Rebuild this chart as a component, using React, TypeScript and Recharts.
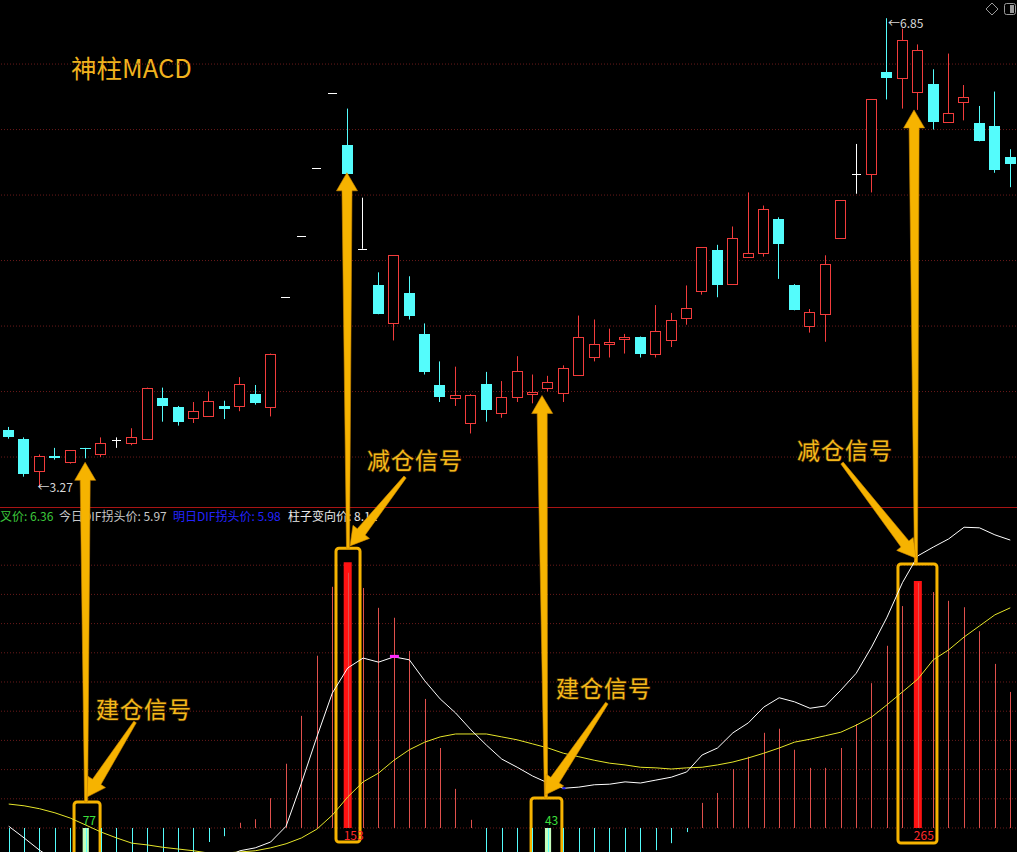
import React from 'react';
import {
  ComposedChart, Bar, Line, XAxis, YAxis, CartesianGrid,
  ReferenceLine, ReferenceArea, ReferenceDot,
} from 'recharts';

// daily candles
const OPEN = [3.71, 3.64, 3.39, 3.51, 3.46, 3.57, 3.52, 3.63, 3.61, 3.64, 3.95, 3.88, 3.80, 3.81, 3.89, 3.89, 3.98, 3.88, 4.72, 5.19, 5.71, 6.28, 5.88, 5.09, 4.81, 4.52, 4.75, 4.44, 4.05, 3.95, 3.76, 4.06, 3.84, 3.96, 3.98, 4.03, 3.99, 4.13, 4.26, 4.36, 4.40, 4.42, 4.29, 4.39, 4.56, 4.77, 5.08, 4.82, 5.03, 5.06, 5.32, 4.81, 4.50, 4.59, 5.17, 5.66, 5.66, 6.44, 6.39, 6.29, 6.35, 6.06, 6.21, 6.05, 6.03, 5.79];
const HIGH = [3.73, 3.65, 3.52, 3.57, 3.55, 3.57, 3.65, 3.65, 3.72, 4.03, 4.03, 3.89, 3.92, 4.00, 3.93, 4.11, 4.05, 4.29, 4.72, 5.19, 5.71, 6.28, 6.16, 5.48, 4.91, 5.04, 4.88, 4.52, 4.23, 4.19, 3.98, 4.15, 4.08, 4.27, 4.13, 4.12, 4.20, 4.58, 4.55, 4.48, 4.44, 4.42, 4.66, 4.60, 4.81, 5.10, 5.12, 5.26, 5.52, 5.42, 5.33, 4.82, 4.63, 5.04, 5.46, 5.89, 6.23, 6.85, 6.77, 6.65, 6.46, 6.58, 6.34, 6.18, 6.29, 5.85];
const LOW = [3.64, 3.35, 3.27, 3.48, 3.45, 3.49, 3.50, 3.57, 3.59, 3.64, 3.77, 3.74, 3.76, 3.81, 3.79, 3.85, 3.90, 3.81, 4.72, 5.19, 5.71, 6.28, 5.65, 5.09, 4.59, 4.39, 4.55, 4.13, 3.92, 3.89, 3.68, 3.77, 3.80, 3.92, 3.91, 4.00, 3.92, 4.13, 4.23, 4.26, 4.29, 4.26, 4.26, 4.34, 4.51, 4.74, 4.72, 4.82, 5.03, 5.03, 4.86, 4.62, 4.45, 4.38, 5.17, 5.51, 5.52, 6.23, 6.16, 6.15, 6.00, 6.06, 6.07, 5.91, 5.67, 5.56];
const CLOSE = [3.65, 3.37, 3.51, 3.49, 3.55, 3.56, 3.61, 3.63, 3.65, 4.03, 3.89, 3.77, 3.85, 3.93, 3.87, 4.06, 3.91, 4.29, 4.72, 5.19, 5.71, 6.28, 5.66, 5.09, 4.59, 5.04, 4.58, 4.15, 3.96, 3.97, 3.97, 3.86, 3.96, 4.16, 4.00, 4.07, 4.18, 4.42, 4.36, 4.38, 4.42, 4.29, 4.46, 4.55, 4.64, 5.10, 4.81, 5.17, 5.06, 5.39, 5.13, 4.62, 4.61, 4.97, 5.46, 5.66, 6.23, 6.39, 6.68, 6.61, 6.06, 6.13, 6.25, 5.91, 5.69, 5.74];

// MACD panel
const HIST = [-0.068, -0.077, -0.072, -0.065, -0.058, -0.051, -0.051, -0.051, -0.048, -0.046, -0.045, -0.045, -0.043, -0.024, -0.014, 0.009, 0.015, 0.051, 0.110, 0.192, 0.295, 0.413, 0.437, 0.411, 0.377, 0.360, 0.303, 0.221, 0.137, 0.067, 0.014, -0.051, -0.051, -0.051, -0.051, -0.051, -0.051, -0.051, -0.051, -0.048, -0.045, -0.041, -0.038, -0.026, -0.007, 0.043, 0.060, 0.101, 0.122, 0.163, 0.170, 0.134, 0.103, 0.103, 0.137, 0.178, 0.248, 0.312, 0.380, 0.420, 0.404, 0.389, 0.378, 0.337, 0.281, 0.233];
const DIF = [0.003, -0.017, -0.038, -0.055, -0.065, -0.072, -0.075, -0.077, -0.077, -0.075, -0.072, -0.068, -0.065, -0.060, -0.051, -0.039, -0.034, -0.024, 0.003, 0.077, 0.156, 0.231, 0.274, 0.291, 0.284, 0.293, 0.288, 0.252, 0.221, 0.197, 0.168, 0.142, 0.118, 0.104, 0.089, 0.077, 0.068, 0.070, 0.074, 0.075, 0.079, 0.077, 0.082, 0.087, 0.096, 0.125, 0.137, 0.163, 0.180, 0.207, 0.223, 0.216, 0.205, 0.209, 0.236, 0.265, 0.310, 0.361, 0.420, 0.466, 0.481, 0.495, 0.515, 0.514, 0.502, 0.493];
const DEA = [0.041, 0.038, 0.033, 0.026, 0.017, 0.005, -0.007, -0.017, -0.026, -0.029, -0.033, -0.036, -0.039, -0.043, -0.043, -0.041, -0.039, -0.034, -0.027, -0.017, -0.002, 0.022, 0.053, 0.079, 0.094, 0.116, 0.134, 0.147, 0.156, 0.161, 0.161, 0.161, 0.156, 0.151, 0.144, 0.137, 0.128, 0.122, 0.116, 0.111, 0.108, 0.104, 0.103, 0.101, 0.103, 0.104, 0.108, 0.113, 0.120, 0.128, 0.137, 0.147, 0.152, 0.158, 0.164, 0.176, 0.190, 0.211, 0.233, 0.255, 0.288, 0.305, 0.327, 0.346, 0.365, 0.377];

// signal bars
const BUILD_IDX = [5, 35];
const BUILD_COUNT = [77, 43];
const REDUCE_IDX = [22, 59];
const REDUCE_COUNT = [153, 265];
const REDUCE_VALUE = [0.455, 0.423];

const INFO = [
  { label: '叉价', value: '6.36', color: '#3cc83c', left: 0 },
  { label: '今日DIF拐头价', value: '5.97', color: '#c8c8c8', left: 59 },
  { label: '明日DIF拐头价', value: '5.98', color: '#2424ff', left: 173 },
  { label: '柱子变向价', value: '8.11', color: '#e8e8e8', left: 288 },
];

const PRICE_TICKS = [3.5, 4, 4.5, 5, 5.5, 6, 6.5];
const MACD_TICKS = [0, 0.05, 0.1, 0.15, 0.2, 0.25, 0.3, 0.35, 0.4, 0.45];
const PRICE_DOMAIN: [number, number] = [0.485, 6.989];
const MACD_DOMAIN: [number, number] = [-0.0411, 1.4178];

const UP = '#f23c3c';
const DOWN = '#54fcfc';
const FLAT = '#ffffff';
const HIST_UP = '#e0504c';
const GOLD = '#f6b300';
const FONT = '"Noto Sans CJK SC", "Noto Sans", sans-serif';

const data = OPEN.map((o, i) => ({
  i, open: o, high: HIGH[i], low: LOW[i], close: CLOSE[i],
  hist: HIST[i], dif: DIF[i], dea: DEA[i],
}));
const N = data.length;

// macd value -> same height on the price axis
const toPrice = (v: number) =>
  PRICE_DOMAIN[0] + ((v - MACD_DOMAIN[0]) / (MACD_DOMAIN[1] - MACD_DOMAIN[0])) * (PRICE_DOMAIN[1] - PRICE_DOMAIN[0]);

// hand drawn annotations: x in bar index, y in macd units (tip of the long arrows in price)
const LONG_ARROWS = [
  { from: [5.02, 0.0445], to: [4.96, 3.46] },
  { from: [22.02, 0.479], to: [21.95, 5.67] },
  { from: [34.87, 0.0514], to: [34.61, 3.97] },
  { from: [58.88, 0.454], to: [58.75, 6.15] },
];
const CAPTIONS = [
  { text: '建仓信号', at: [8.78, 0.202], from: [8.2, 0.1815], to: [5.08, 0.053] },
  { text: '减仓信号', at: [26.37, 0.628], from: [25.72, 0.601], to: [22.15, 0.483] },
  { text: '建仓信号', at: [38.63, 0.238], from: [38.82, 0.214], to: [34.8, 0.0565] },
  { text: '减仓信号', at: [54.27, 0.646], from: [54.08, 0.625], to: [58.88, 0.462] },
];
const BOXES = [
  { x1: 4.24, x2: 5.93, top: 0.0445, bottom: -0.1 },
  { x1: 21.24, x2: 22.8, top: 0.479, bottom: -0.024 },
  { x1: 33.9, x2: 35.9, top: 0.0514, bottom: -0.1 },
  { x1: 57.71, x2: 60.24, top: 0.452, bottom: -0.0257 },
];

const Candle = (props: any) => {
  const { x, y, width, height, payload } = props;
  const { open, close, high, low } = payload;
  const k = high > low ? height / (high - low) : 0;
  const py = (v: number) => y + (high - v) * k;
  const left = Math.round(x + width / 2 - 5.5);
  const cx = left + 5.5;
  const color = close > open ? UP : close < open ? DOWN : FLAT;
  const t = Math.round(py(Math.max(open, close)));
  const b = Math.round(py(Math.min(open, close)));
  const yh = py(high);
  const yl = py(low);
  if (open === close) {
    return (
      <g>
        {yl > yh && <line x1={cx} x2={cx} y1={yh} y2={yl} stroke={color} />}
        <line x1={cx - 4.5} x2={cx + 4.5} y1={t + 0.5} y2={t + 0.5} stroke={color} />
      </g>
    );
  }
  const h = Math.max(b - t, 1);
  if (close > open) {
    return (
      <g>
        {yh < t && <line x1={cx} x2={cx} y1={yh} y2={t} stroke={color} />}
        {yl > t + h && <line x1={cx} x2={cx} y1={t + h} y2={yl} stroke={color} />}
        <rect x={left + 0.5} y={t + 0.5} width={10} height={h} fill="#000" stroke={color} />
      </g>
    );
  }
  return (
    <g>
      <line x1={cx} x2={cx} y1={yh} y2={yl} stroke={color} />
      <rect x={left} y={t} width={11} height={h} fill={color} />
    </g>
  );
};

const HistLine = (props: any) => {
  const { x, y, width, height, payload } = props;
  const cx = Math.round(x + width / 2) + 0.5;
  return <line x1={cx} x2={cx} y1={y} y2={y + height} stroke={payload.hist >= 0 ? HIST_UP : DOWN} />;
};

const arrow = (props: any) => {
  const { x1, y1, x2, y2 } = props;
  const dx = x2 - x1;
  const dy = y2 - y1;
  const len = Math.hypot(dx, dy) || 1;
  const ux = dx / len;
  const uy = dy / len;
  const nx = -uy;
  const ny = ux;
  const head = 18;
  const bx = x2 - ux * head;
  const by = y2 - uy * head;
  const p = (px: number, py: number) => `${px.toFixed(1)},${py.toFixed(1)}`;
  const pts = [
    p(x1 + nx * 1.5, y1 + ny * 1.5),
    p(bx + nx * 5, by + ny * 5),
    p(bx + nx * 10.5, by + ny * 10.5),
    p(x2, y2),
    p(bx - nx * 10.5, by - ny * 10.5),
    p(bx - nx * 5, by - ny * 5),
    p(x1 - nx * 1.5, y1 - ny * 1.5),
  ].join(' ');
  return <polygon points={pts} fill={GOLD} stroke="#d08a00" strokeWidth={0.6} />;
};

const hiIdx = HIGH.indexOf(Math.max(...HIGH));
const loIdx = LOW.indexOf(Math.min(...LOW));

const App = () => (
  <div style={{ position: 'fixed', left: 0, top: 0, width: 1017, height: 852, background: '#000', overflow: 'hidden', fontFamily: FONT }}>
    <div style={{ position: 'absolute', left: 0, top: 507, width: 1017, height: 1, background: '#a81414' }} />
    {INFO.map((t) => (
      <div key={t.label} style={{ position: 'absolute', left: t.left, top: 508, fontSize: 12, lineHeight: '16px', color: t.color, whiteSpace: 'nowrap' }}>
        {t.label}: {t.value}
      </div>
    ))}
    <div style={{ position: 'absolute', left: 71, top: 50, fontSize: 25.5, lineHeight: '34px', color: '#f0b21e', whiteSpace: 'nowrap' }}>
      神柱MACD
    </div>
    <svg style={{ position: 'absolute', left: 984, top: 1 }} width={33} height={16}>
      <path d="M8,2 L14,8 L8,14 L2,8 Z" fill="none" stroke="#9a9a9a" />
      <rect x={20.5} y={2.5} width={11} height={11} rx={2} fill="none" stroke="#9a9a9a" />
      <rect x={26} y={4} width={4} height={8} fill="#9a9a9a" />
    </svg>
    <div style={{ position: 'absolute', left: 0, top: 0 }}>
      <ComposedChart width={1018} height={852} data={data} margin={{ top: 0, right: 0, bottom: 0, left: 1 }}>
        <XAxis xAxisId="c" dataKey="i" type="number" domain={[-0.5, N - 0.5]} allowDataOverflow hide />
        <XAxis xAxisId="h" dataKey="i" type="number" domain={[-0.5, N - 0.5]} allowDataOverflow hide />
        <YAxis yAxisId="p" domain={PRICE_DOMAIN} ticks={PRICE_TICKS} allowDataOverflow hide />
        <YAxis yAxisId="m" domain={MACD_DOMAIN} ticks={MACD_TICKS} allowDataOverflow hide />
        <CartesianGrid xAxisId="c" yAxisId="p" vertical={false} horizontalValues={PRICE_TICKS} stroke="#6a1a1a" strokeDasharray="1 2" />
        <CartesianGrid xAxisId="h" yAxisId="m" vertical={false} horizontalValues={MACD_TICKS} stroke="#6a1a1a" strokeDasharray="1 2" />

        <Bar xAxisId="c" yAxisId="p" dataKey={(d: any) => [d.low, d.high]} barSize={11} shape={Candle} isAnimationActive={false} />
        <Bar xAxisId="h" yAxisId="m" dataKey="hist" barSize={3} shape={HistLine} isAnimationActive={false} />
        <Line xAxisId="h" yAxisId="m" dataKey="dea" stroke="#e6e62a" strokeWidth={1} dot={false} isAnimationActive={false} />
        <Line xAxisId="h" yAxisId="m" dataKey="dif" stroke="#ffffff" strokeWidth={1} dot={false} isAnimationActive={false} />

        <ReferenceDot xAxisId="h" yAxisId="m" x={25} y={DIF[25]} r={2} shape={(p: any) => <rect x={p.cx - 4} y={p.cy - 2} width={9} height={3} fill="#ff28ff" />} />
        <ReferenceDot xAxisId="h" yAxisId="m" x={36} y={DIF[36]} r={2} shape={(p: any) => <rect x={p.cx - 1} y={p.cy - 1} width={3} height={2} fill="#2020ff" />} />

        {REDUCE_IDX.map((idx, k) => (
          <ReferenceArea key={`r${idx}`} xAxisId="h" yAxisId="m" x1={idx - 0.26} x2={idx + 0.26} y1={0} y2={REDUCE_VALUE[k]} fill="#ff1212" fillOpacity={1} stroke="none" ifOverflow="visible" />
        ))}
        {BUILD_IDX.map((idx) => (
          <ReferenceArea key={`b${idx}`} xAxisId="h" yAxisId="m" x1={idx - 0.2} x2={idx + 0.2} y1={HIST[idx]} y2={0} fill="#c4ffbc" fillOpacity={1} stroke="none" ifOverflow="visible" />
        ))}
        {REDUCE_IDX.map((idx, k) => (
          <ReferenceDot key={`rl${idx}`} xAxisId="h" yAxisId="m" x={idx - 0.26} y={0} r={1} ifOverflow="visible"
            shape={(p: any) => <text x={p.cx} y={p.cy + 12} fontSize={12} fill="#ff2a2a" fontFamily={FONT}>{REDUCE_COUNT[k]}</text>} />
        ))}
        {BUILD_IDX.map((idx, k) => (
          <ReferenceDot key={`bl${idx}`} xAxisId="h" yAxisId="m" x={idx - 0.2} y={0} r={1} ifOverflow="visible"
            shape={(p: any) => <text x={p.cx} y={p.cy - 3} fontSize={12} fill="#3ce03c" fontFamily={FONT}>{BUILD_COUNT[k]}</text>} />
        ))}

        <ReferenceDot xAxisId="c" yAxisId="p" x={loIdx} y={LOW[loIdx]} r={1}
          shape={(p: any) => <text x={p.cx - 2} y={p.cy + 5} fontSize={12} fill="#d8d8d8" fontFamily={FONT}>{`←${LOW[loIdx].toFixed(2)}`}</text>} />
        <ReferenceDot xAxisId="c" yAxisId="p" x={hiIdx} y={HIGH[hiIdx]} r={1}
          shape={(p: any) => <text x={p.cx + 1} y={p.cy + 10} fontSize={12} fill="#d8d8d8" fontFamily={FONT}>{`←${HIGH[hiIdx].toFixed(2)}`}</text>} />

        {BOXES.map((b, k) => (
          <ReferenceArea key={`box${k}`} xAxisId="h" yAxisId="m" x1={b.x1} x2={b.x2} y1={b.bottom} y2={b.top} ifOverflow="visible"
            shape={(p: any) => <rect x={p.x} y={p.y} width={p.width} height={p.height} rx={3} fill="none" stroke={GOLD} strokeWidth={3} />} />
        ))}
        {LONG_ARROWS.map((a, k) => (
          <ReferenceLine key={`la${k}`} xAxisId="c" yAxisId="p" ifOverflow="visible"
            segment={[{ x: a.from[0], y: toPrice(a.from[1]) }, { x: a.to[0], y: a.to[1] }]} shape={arrow} />
        ))}
        {CAPTIONS.map((c, k) => (
          <ReferenceLine key={`ca${k}`} xAxisId="h" yAxisId="m" ifOverflow="visible"
            segment={[{ x: c.from[0], y: c.from[1] }, { x: c.to[0], y: c.to[1] }]} shape={arrow} />
        ))}
        {CAPTIONS.map((c, k) => (
          <ReferenceDot key={`ct${k}`} xAxisId="h" yAxisId="m" x={c.at[0]} y={c.at[1]} r={1}
            shape={(p: any) => (
              <text x={p.cx} y={p.cy + 8} textAnchor="middle" fontSize={23} fill="#f4b81c" stroke="#3a2600" strokeWidth={1.5}
                paintOrder="stroke" letterSpacing={1} fontFamily={FONT}>{c.text}</text>
            )} />
        ))}
      </ComposedChart>
    </div>
  </div>
);

export default App;
